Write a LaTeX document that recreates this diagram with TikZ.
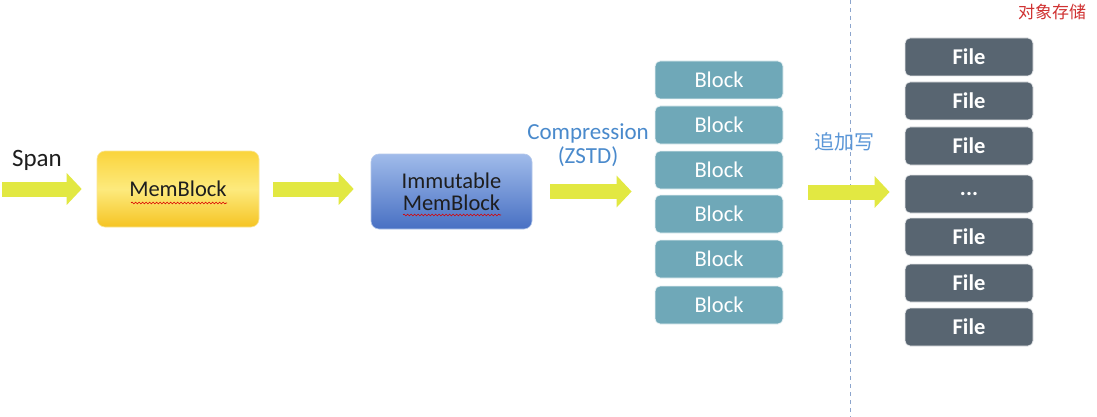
\documentclass[tikz,border=0pt]{standalone}
\usepackage{fontspec}
\setmainfont{Carlito}
\newfontfamily\cjk{Noto Sans CJK SC}
\usetikzlibrary{arrows.meta,decorations.pathmorphing}
\definecolor{arrowc}{RGB}{226,232,66}
\definecolor{blockc}{RGB}{111,168,184}
\definecolor{filec}{RGB}{88,101,113}
\definecolor{compc}{RGB}{74,138,204}
\definecolor{zjc}{RGB}{90,150,215}
\definecolor{objc}{RGB}{208,50,50}
\definecolor{dashc}{RGB}{140,165,205}
\definecolor{txtc}{RGB}{30,30,30}
\definecolor{memtop}{RGB}{250,212,60}
\definecolor{memmid}{RGB}{253,234,125}
\definecolor{membot}{RGB}{245,196,35}
\definecolor{memdraw}{RGB}{250,230,150}
\definecolor{immtop}{RGB}{160,187,234}
\definecolor{immbot}{RGB}{72,112,195}
\definecolor{immdraw}{RGB}{180,200,235}
\newcommand{\myells}{...}
\tikzset{
  bigarrow/.style={line width=15pt, draw=arrowc, -{Triangle[width=31pt,length=15pt]}},
  memb/.style={rounded corners=8pt, minimum width=162pt, minimum height=76pt, draw=memdraw, line width=0.6pt,
     top color=memtop, bottom color=membot, middle color=memmid,
     font=\fontsize{22.5}{24}\selectfont, text=txtc},
  immb/.style={rounded corners=8pt, minimum width=161pt, minimum height=75pt, draw=immdraw, line width=0.6pt,
     top color=immtop, bottom color=immbot,
     font=\fontsize{22.5}{22}\selectfont, text=txtc, align=center},
  blockbox/.style={rounded corners=5pt, minimum width=128pt, minimum height=38pt, fill=blockc, draw=white!85!blockc, line width=0.8pt,
     text=white, font=\fontsize{22.5}{24}\selectfont},
  filebox/.style={rounded corners=5pt, minimum width=128pt, minimum height=38pt, fill=filec, draw=white!85!filec, line width=0.8pt,
     text=white, font=\bfseries\fontsize{22.5}{24}\selectfont},
  squig/.style={draw=red!85!black, line width=0.6pt, decorate, decoration={snake, amplitude=0.9pt, segment length=3.5pt}},
  lbl/.style={font=\fontsize{23}{24}\selectfont}
}
\begin{document}
\begin{tikzpicture}[x=1pt,y=-1pt]
\fill[white] (0,0) rectangle (1097,417);
\useasboundingbox (0,0) rectangle (1097,417);

% dashed separator
\coordinate (dtop) at (850,0);
\coordinate (dbot) at (850,417);
\draw[dashc, line width=1pt, dash pattern=on 4pt off 4pt] (dtop) -- (dbot);

% labels
\node[text=txtc, font=\fontsize{25}{26}\selectfont] (span) at (37,160) {Span};
\node[lbl, text=compc, align=center] (comp) at (588,145) {Compression\\(ZSTD)};
\node[text=zjc, font=\cjk\fontsize{20}{22}\selectfont] (zj) at (844,142) {追加写};
\node[text=objc, font=\cjk\fontsize{17}{19}\selectfont] (obj) at (1052,12) {对象存储};

% main boxes
\node[memb] (mem) at (178,189) {MemBlock};
\node[immb] (imm) at (451.5,191.5) {Immutable\\MemBlock};
\draw[squig] (131,203) -- (227,203);
\draw[squig] (403,215) -- (501,215);

% blocks
\foreach \i/\y in {1/80,2/125,3/170,4/214,5/259,6/305}
  \node[blockbox] (b\i) at (719,\y) {Block};

% files
\foreach \i/\y in {1/57,2/101,3/146,5/237,6/283,7/327}
  \node[filebox] (f\i) at (969,\y) {File};
\node[filebox] (f4) at (969,194) {\myells};

% arrows
\coordinate (s0) at (2,189);
\draw[bigarrow, shorten >=15pt] (s0) -- (s0 -| mem.west);
\draw[bigarrow, shorten <=14pt, shorten >=17pt] (mem.east) -- (mem.east -| imm.west);
\coordinate (a3s) at (imm.east);
\draw[bigarrow, shorten <=18pt, shorten >=23pt] (a3s) -- (a3s -| b3.west);
\coordinate (a4s) at (808,192);
\draw[bigarrow, shorten >=15pt] (a4s) -- (a4s -| f4.west);
\end{tikzpicture}
\end{document}
